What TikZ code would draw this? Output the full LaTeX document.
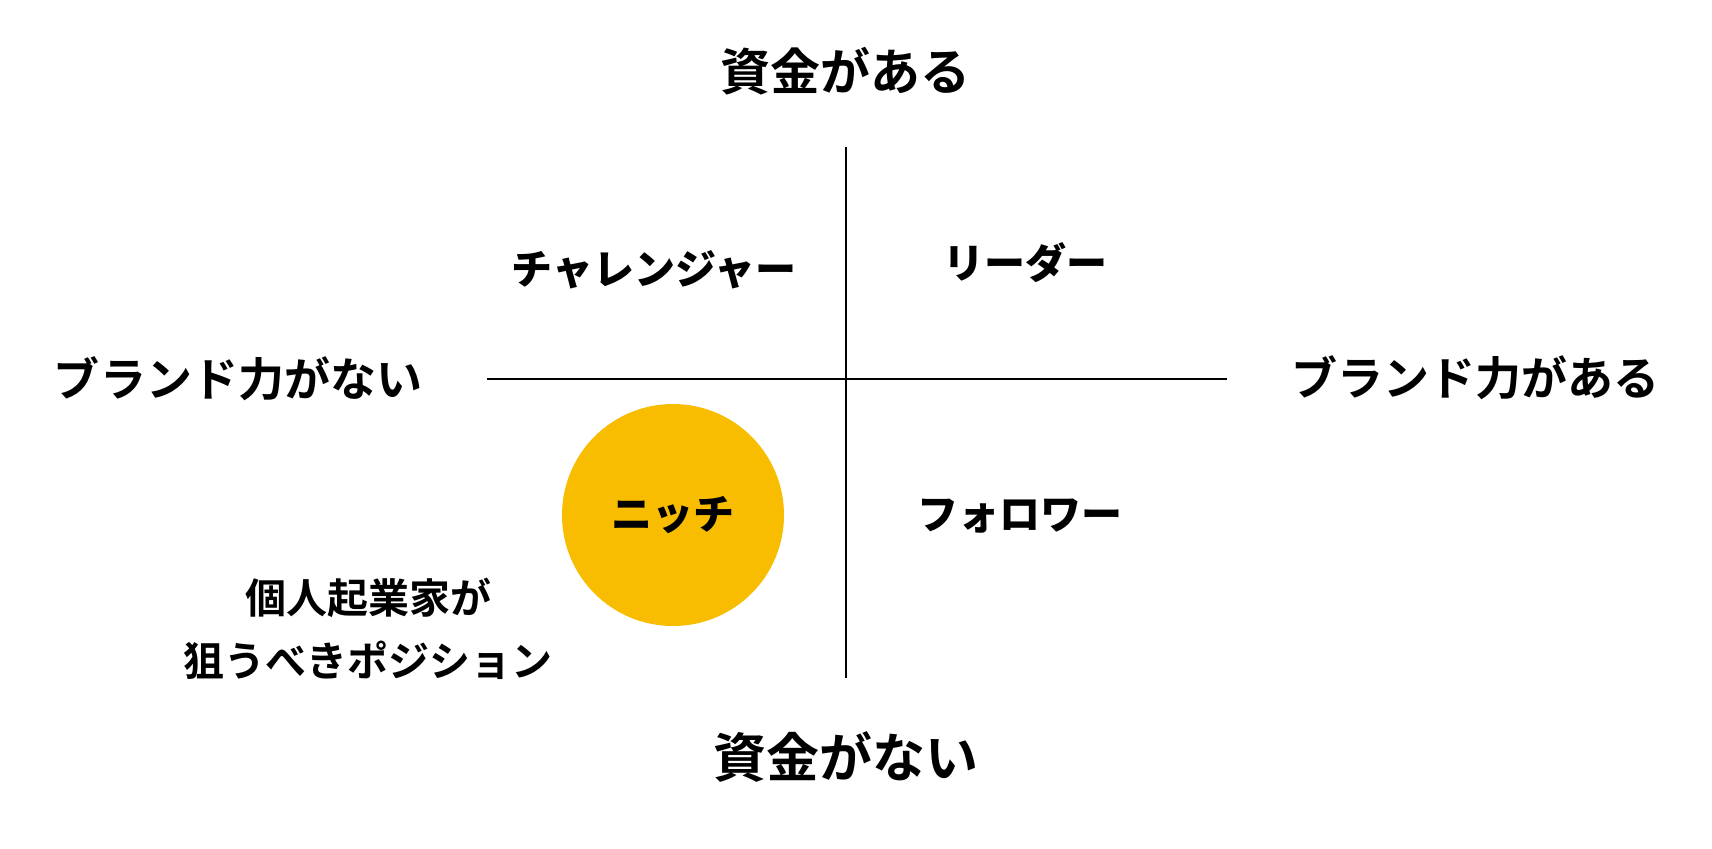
\documentclass[tikz,border=0pt]{standalone}
\usepackage{fontspec}
\setmainfont{Noto Sans CJK JP}[BoldFont={* Bold}]
\newfontfamily\heavyfont{Noto Sans CJK JP Black}
\usepackage{xcolor}
\definecolor{nicheyellow}{RGB}{248,188,0}

\begin{document}
\begin{tikzpicture}[x=0.5pt, y=-0.5pt,
    axis/.style={line width=1.4pt},
    axislabel/.style={font=\bfseries\fontsize{25}{30}\selectfont, inner sep=0pt},
    sidelabel/.style={font=\bfseries\fontsize{23}{28}\selectfont, inner sep=0pt},
    quadlabel/.style={font=\heavyfont\fontsize{20.5}{25}\selectfont, inner sep=0pt},
    note/.style={font=\bfseries\fontsize{20.5}{31.5}\selectfont, align=center, inner sep=0pt}]
                    \useasboundingbox (0,0) rectangle (1712,848);
                    \coordinate (Top) at (846,147);
                    \coordinate (Bottom) at (846,678);
                    \coordinate (Left) at (487,379);
                    \coordinate (Right) at (1227,379);
                    \draw[axis] (Top) -- (Bottom);
                    \draw[axis] (Left) -- (Right);
                    \node[axislabel] (MoneyYes) at (845,71) {資金がある};
                    \node[axislabel, font=\bfseries\fontsize{26.5}{31}\selectfont] (MoneyNo) at (846,757) {資金がない};
                    \node[sidelabel] (BrandNo) at (238,379) {ブランド力がない};
                    \node[sidelabel] (BrandYes) at (1475,378) {ブランド力がある};
                    \node[quadlabel] (Challenger) at (654,270) {チャレンジャー};
                    \node[quadlabel] (Leader) at (1025,263) {リーダー};
                    \node[quadlabel] (Follower) at (1020,516) {フォロワー};
                    \node[circle, fill=nicheyellow, minimum size=111pt, inner sep=0pt,
                          font=\heavyfont\fontsize{20.5}{25}\selectfont] (Niche) at (673,515) {ニッチ};
                    \node[note] (Target) at (368,629) {個人起業家が\\狙うべきポジション};
                \end{tikzpicture}
\end{document}
